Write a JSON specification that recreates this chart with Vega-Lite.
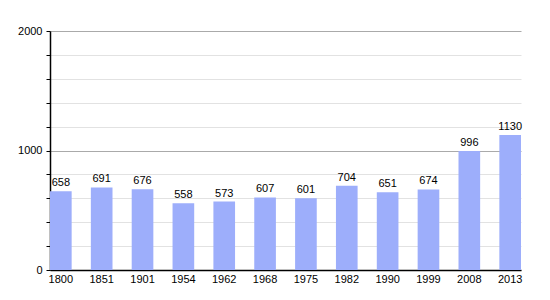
{
  "$schema": "https://vega.github.io/schema/vega-lite/v6.json",
  "width": 471,
  "height": 239,
  "autosize": {"type": "none"},
  "padding": {"left": 50, "top": 31, "right": 29, "bottom": 30},
  "background": "white",
  "config": {"view": {"stroke": null}, "font": "Liberation Sans"},
  "data": {"values": [
    {"year": "1800", "pop": 658},
    {"year": "1851", "pop": 691},
    {"year": "1901", "pop": 676},
    {"year": "1954", "pop": 558},
    {"year": "1962", "pop": 573},
    {"year": "1968", "pop": 607},
    {"year": "1975", "pop": 601},
    {"year": "1982", "pop": 704},
    {"year": "1990", "pop": 651},
    {"year": "1999", "pop": 674},
    {"year": "2008", "pop": 996},
    {"year": "2013", "pop": 1130}
  ]},
  "encoding": {
    "x": {"field": "year", "type": "nominal", "sort": null,
      "scale": {"paddingInner": 0.47, "paddingOuter": 0},
      "axis": {"title": null, "labelAngle": 0, "ticks": false, "domainColor": "black", "domainWidth": 1.5, "labelColor": "black", "labelFontSize": 11, "labelPadding": 3}},
    "y": {"field": "pop", "type": "quantitative",
      "scale": {"domain": [0, 2000], "nice": false},
      "axis": {"title": null, "values": [0,200,400,600,800,1000,1200,1400,1600,1800,2000],
        "labelExpr": "datum.value % 1000 === 0 ? datum.label : ''",
        "format": "d",
        "domainColor": "black", "domainWidth": 1.5, "tickColor": "black", "tickSize": 4,
        "labelColor": "black", "labelFontSize": 11, "labelPadding": 4,
        "grid": true,
        "gridColor": {"condition": {"test": "datum.value % 1000 === 0", "value": "#aaaaaa"}, "value": "#e2e2e2"}}}
  },
  "layer": [
    {"mark": {"type": "bar", "color": "#9daefb"}},
    {"mark": {"type": "text", "baseline": "bottom", "dy": -3, "fontSize": 11, "color": "black"},
     "encoding": {"text": {"field": "pop", "type": "quantitative"}}}
  ]
}
